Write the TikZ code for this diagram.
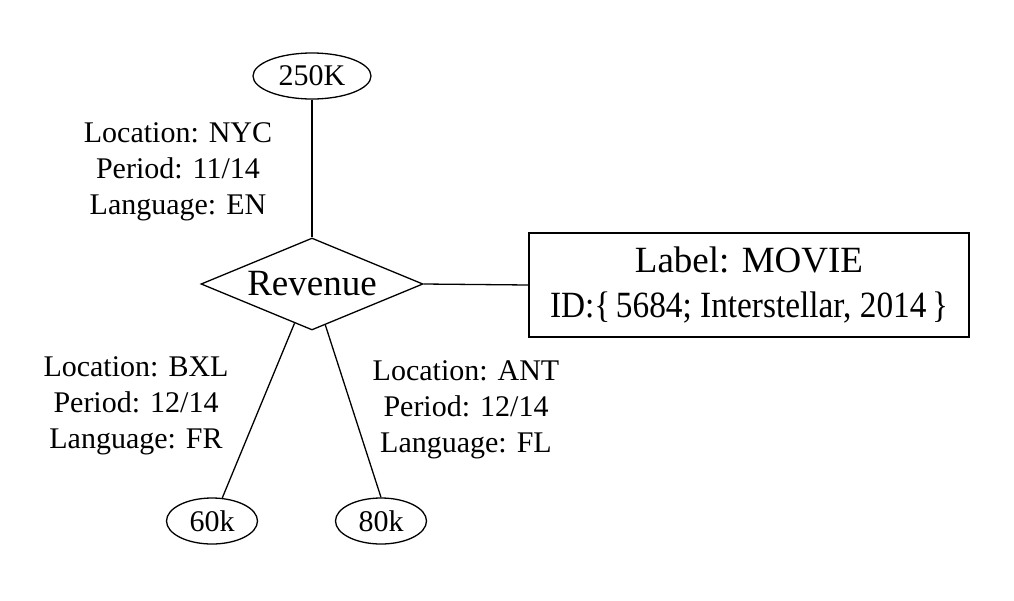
\documentclass[tikz,border=0pt]{standalone}
\usepackage{fontspec}
\usepackage{graphicx}
\setmainfont{Liberation Serif}
\usetikzlibrary{shapes.geometric}
\begin{document}
\begin{tikzpicture}[x=1pt,y=-1pt,
  small/.style={font=\fontsize{30}{36}\selectfont},
  big/.style={font=\fontsize{37}{45}\selectfont},
  val/.style={ellipse,draw,line width=1.3pt,inner sep=0pt,small,minimum height=46pt},
  info/.style={align=center,small,inner sep=0pt},
  conn/.style={line width=1.3pt}]
\useasboundingbox (0,0) rectangle (1014,600);
\node[val,minimum width=118pt] (e250) at (312,76) {250K};
\node[diamond,draw,line width=1.3pt,aspect=2.41,minimum width=222pt,minimum height=92pt,inner sep=0pt,big] (rev) at (312,284) {Revenue};
\node[draw,line width=1.3pt,minimum width=440pt,minimum height=104pt,align=center,big,inner sep=0pt] (movie) at (749,285) {Label: MOVIE\\\resizebox{398pt}{\height}{ID:\textbraceleft\,5684; Interstellar, 2014\,\textbraceright}};
\node[val,minimum width=91pt] (e60) at (212,521) {60k};
\node[val,minimum width=91pt] (e80) at (381,521) {80k};
\node[info] (t1) at (178,172) {Location: NYC\\Period: 11/14\\Language: EN};
\node[info] (t2) at (136,406) {Location: BXL\\Period: 12/14\\Language: FR};
\node[info] (t3) at (466,410) {Location: ANT\\Period: 12/14\\Language: FL};
\draw[conn] (e250.south) -- (rev.north);
\draw[conn] (rev.east) -- (movie.west);
\draw[conn] (rev.246) -- (e60.66);
\draw[conn] (rev.288) -- (e80.north);
\end{tikzpicture}
\end{document}
